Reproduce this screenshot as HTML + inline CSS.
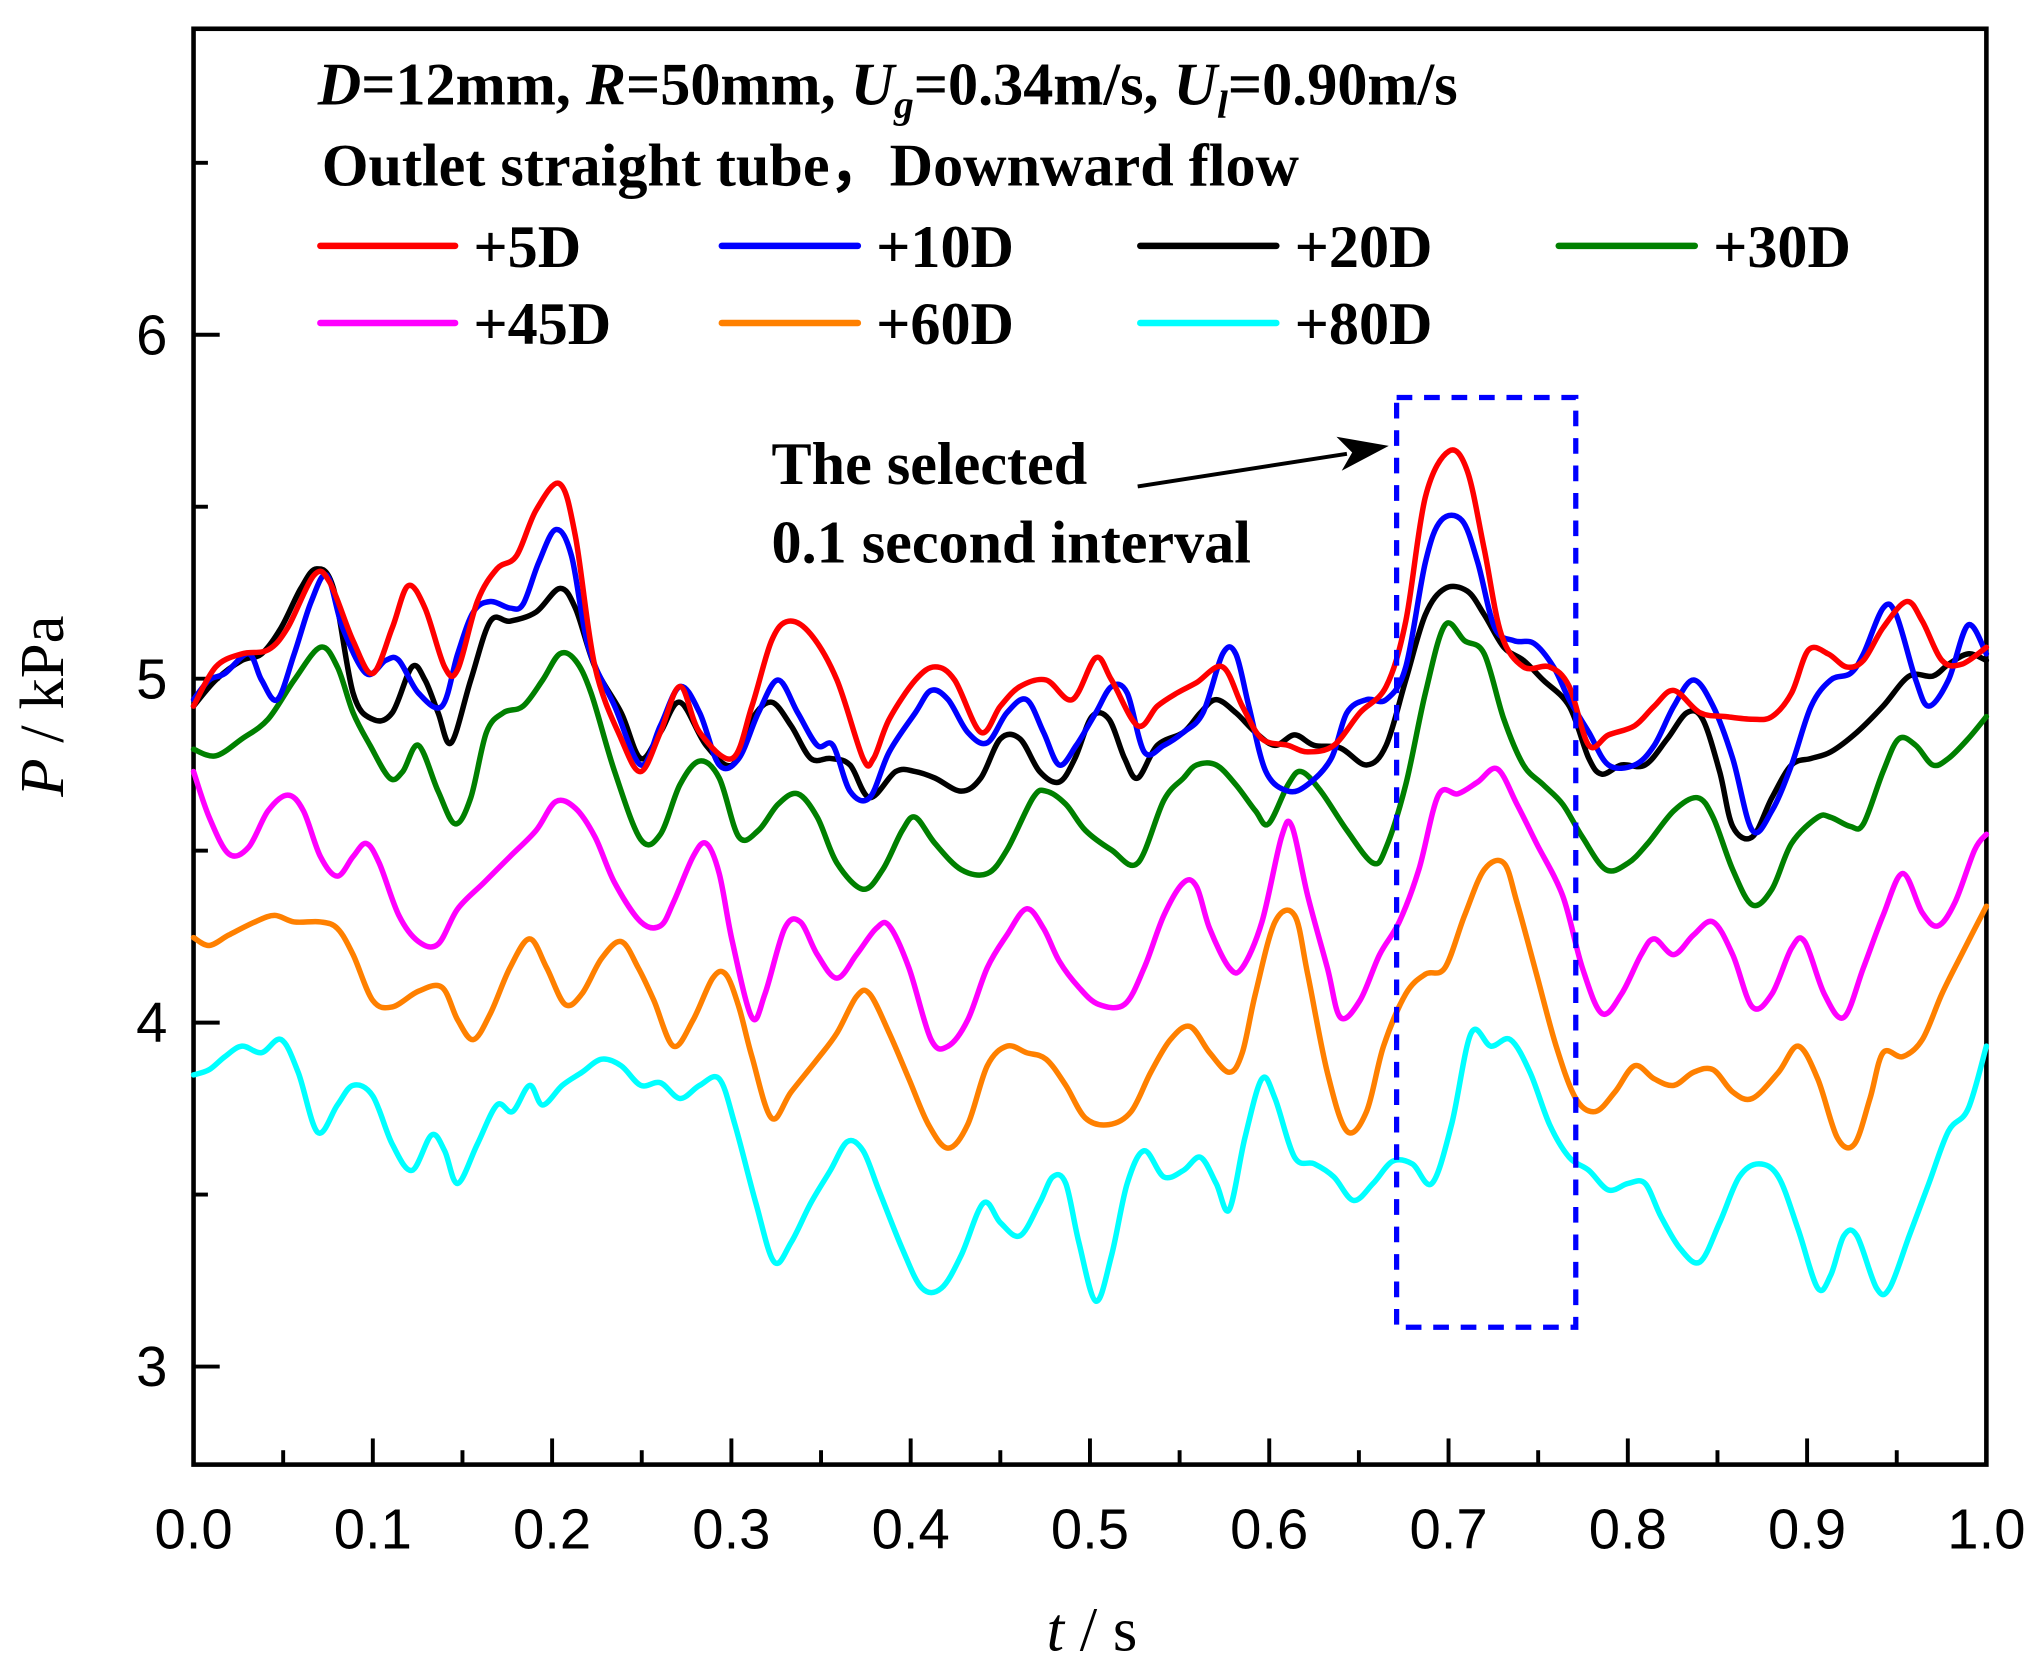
<!DOCTYPE html>
<html><head><meta charset="utf-8"><style>
html,body{margin:0;padding:0;background:#fff}
svg{display:block}
.t{font-family:"Liberation Serif",serif;font-weight:bold;font-size:46px;fill:#000}
.n{font-family:"Liberation Sans",sans-serif;font-size:43px;fill:#000}
</style></head><body>
<svg id="s" width="2040" height="1672" viewBox="0 0 1560 1278.6" preserveAspectRatio="none" xmlns="http://www.w3.org/2000/svg">
<rect x="148" y="22" width="1371" height="1098" fill="none" stroke="#000" stroke-width="3.5"/>
<g id="ticks" stroke="#000" stroke-width="3"></g>
<g id="series" fill="none" stroke-width="4.2" stroke-linejoin="round" stroke-linecap="round"></g>
<g class="n" text-anchor="end">
<text x="128" y="1060">3</text><text x="128" y="797">4</text><text x="128" y="534">5</text><text x="128" y="271">6</text>
</g>
<g class="n" text-anchor="middle" id="xl"></g>
<text x="835" y="1262" font-family="Liberation Serif,serif" font-size="48" text-anchor="middle"><tspan font-style="italic">t</tspan> / s</text>
<text transform="translate(48,540) rotate(-90)" font-family="Liberation Serif,serif" font-size="48" text-anchor="middle"><tspan font-style="italic">P</tspan> / kPa</text>
<text class="t" x="243" y="80" font-size="44"><tspan font-style="italic">D</tspan>=12mm, <tspan font-style="italic">R</tspan>=50mm, <tspan font-style="italic">U</tspan><tspan font-style="italic" font-size="30" dy="10">g</tspan><tspan dy="-10">=0.34m/s, </tspan><tspan font-style="italic">U</tspan><tspan font-style="italic" font-size="30" dy="10">l</tspan><tspan dy="-10">=0.90m/s</tspan></text>
<text class="t" x="246" y="142" font-family="Liberation Serif,'Noto Serif CJK SC',serif">Outlet straight tube，Downward flow</text>
<g stroke-width="5" stroke-linecap="round">
<line x1="245" y1="188" x2="348" y2="188" stroke="#f00"/>
<line x1="552" y1="188" x2="656" y2="188" stroke="#00f"/>
<line x1="872" y1="188" x2="976" y2="188" stroke="#000"/>
<line x1="1192" y1="188" x2="1296" y2="188" stroke="#008000"/>
<line x1="245" y1="247" x2="348" y2="247" stroke="#f0f"/>
<line x1="552" y1="247" x2="656" y2="247" stroke="#ff8000"/>
<line x1="872" y1="247" x2="976" y2="247" stroke="#0ff"/>
</g>
<g class="t">
<text x="362" y="204">+5D</text><text x="670" y="204">+10D</text><text x="990" y="204">+20D</text><text x="1310" y="204">+30D</text>
<text x="362" y="263">+45D</text><text x="670" y="263">+60D</text><text x="990" y="263">+80D</text>
<text x="590" y="370">The selected</text><text x="590" y="430">0.1 second interval</text>
</g>
<line x1="870" y1="372" x2="1030" y2="347" stroke="#000" stroke-width="3"/>
<polygon points="1062,341 1022,334 1034,346 1026,360" fill="#000"/>
<rect x="1068" y="304" width="137" height="711" fill="none" stroke="#00f" stroke-width="4" stroke-dasharray="12,9"/>
</svg>
<script>
var NS="http://www.w3.org/2000/svg";
var tg=document.getElementById('ticks'),xl=document.getElementById('xl');
function ln(x1,y1,x2,y2){var l=document.createElementNS(NS,'line');l.setAttribute('x1',x1);l.setAttribute('y1',y1);l.setAttribute('x2',x2);l.setAttribute('y2',y2);tg.appendChild(l);}
for(var i=0;i<=20;i++){var x=148+i*68.55;ln(x,1120,x,1120-(i%2?11:20));if(i%2==0){var t=document.createElementNS(NS,'text');t.setAttribute('x',x);t.setAttribute('y',1184);t.textContent=(i/20).toFixed(1);xl.appendChild(t);}}
for(var v=3;v<=6.5;v+=0.5){var y=519-(v-5)*263;ln(148,y,148+(v%1?11:20),y);}
var D={
"#f00":"148,540 165,510 185,500 205,497 220,480 240,440 252,445 270,490 285,515 300,480 312,448 325,465 340,510 350,512 365,460 380,435 395,425 410,390 428,370 440,410 455,510 475,565 490,590 505,560 520,525 535,560 560,580 575,540 590,490 603,475 620,485 640,520 660,580 668,580 680,550 700,520 715,510 730,520 750,560 765,540 780,525 800,520 820,535 838,503 850,520 870,555 885,540 900,530 915,522 935,510 950,540 965,565 985,570 1000,575 1020,570 1040,545 1060,525 1075,475 1090,380 1108,345 1122,360 1135,420 1148,485 1165,510 1185,510 1200,525 1215,570 1230,562 1250,555 1265,540 1280,528 1300,545 1320,548 1340,550 1355,548 1370,530 1383,497 1398,500 1412,510 1425,505 1440,480 1458,460 1470,475 1485,505 1500,508 1519,495",
"#00f":"148,535 160,520 172,515 190,500 200,520 212,535 225,500 238,460 250,440 262,480 280,515 295,505 305,505 320,530 338,540 350,500 362,468 375,460 390,465 400,462 412,430 425,405 437,425 450,495 470,540 490,585 505,555 520,525 535,545 550,585 565,580 580,545 595,520 610,545 625,570 637,570 650,605 665,610 680,575 700,545 712,528 725,535 740,560 755,568 770,545 785,535 798,560 810,585 823,570 838,545 850,525 862,530 875,575 890,570 905,560 920,545 935,500 945,500 955,540 968,590 985,605 1000,600 1018,580 1030,545 1045,535 1060,535 1075,510 1090,430 1102,398 1118,398 1130,430 1143,480 1158,490 1173,492 1188,510 1200,535 1215,560 1230,585 1250,585 1265,570 1280,540 1295,520 1310,540 1325,580 1340,635 1355,620 1370,585 1385,540 1400,520 1415,515 1425,500 1440,465 1450,470 1465,520 1475,540 1490,520 1505,478 1519,500",
"#000":"148,540 165,520 185,505 200,500 215,480 230,450 242,435 255,450 270,530 285,550 300,545 315,510 325,520 335,545 345,568 360,520 375,475 390,475 410,468 428,450 440,465 455,510 475,545 490,580 505,560 520,537 540,570 560,585 575,550 590,537 605,555 620,580 635,580 650,585 665,610 685,590 700,590 715,595 735,605 750,595 765,565 780,565 795,590 810,598 822,580 835,548 848,550 860,580 870,595 885,570 905,560 918,545 930,535 945,545 960,560 975,570 990,562 1005,570 1025,572 1045,585 1060,570 1075,520 1090,470 1105,450 1122,452 1135,470 1150,495 1165,505 1180,520 1200,540 1215,580 1225,592 1240,585 1258,585 1275,565 1290,545 1302,550 1315,590 1325,632 1340,640 1355,610 1370,585 1385,580 1400,575 1420,560 1440,540 1460,517 1478,517 1490,508 1505,500 1519,505",
"#008000":"148,573 165,578 185,565 205,550 225,520 245,495 258,510 270,545 283,570 298,595 308,590 320,570 335,605 348,630 360,610 372,560 385,545 400,540 415,520 428,500 440,505 452,530 470,590 490,642 505,638 520,600 535,582 550,595 565,640 580,635 595,615 610,607 625,625 640,660 660,680 675,665 690,635 700,625 715,645 735,665 755,668 770,650 790,610 800,605 815,615 830,635 850,650 870,660 890,612 905,595 915,585 930,585 945,600 960,620 970,630 985,600 995,590 1010,605 1030,635 1050,660 1060,648 1075,600 1090,530 1105,478 1120,490 1135,500 1150,550 1165,585 1180,600 1195,615 1210,640 1228,665 1245,660 1260,645 1280,620 1298,610 1310,625 1325,665 1340,692 1355,680 1370,645 1390,625 1400,625 1415,632 1425,630 1440,590 1452,565 1465,570 1478,585 1490,580 1505,565 1519,548",
"#f0f":"148,590 160,625 175,653 190,648 205,620 220,608 232,620 245,655 258,670 270,655 280,645 290,660 305,700 320,720 335,722 350,695 370,675 390,655 410,635 425,613 440,618 455,640 470,675 490,705 505,708 515,690 530,655 540,645 550,668 560,720 575,778 585,760 600,710 612,705 625,730 640,748 655,730 670,710 680,708 695,740 712,795 725,800 740,780 755,740 770,715 785,695 798,710 810,735 825,755 840,768 860,768 875,740 890,700 905,675 915,678 925,710 940,740 950,740 965,705 980,640 988,632 1000,685 1015,740 1025,778 1040,765 1055,730 1070,705 1085,665 1100,608 1115,607 1130,598 1145,588 1160,615 1175,645 1195,685 1210,740 1225,775 1240,760 1255,730 1265,718 1280,730 1295,715 1310,705 1325,730 1340,770 1355,760 1370,725 1380,720 1395,760 1410,778 1425,740 1440,700 1455,668 1470,698 1482,708 1495,690 1510,650 1519,638",
"#ff8000":"148,717 160,723 175,715 195,705 210,700 225,705 245,705 258,710 270,730 285,765 300,770 320,758 338,755 350,780 362,795 375,775 390,740 405,718 418,740 432,768 445,760 460,733 475,720 488,740 500,765 515,800 530,780 545,748 555,745 565,770 575,808 590,855 605,835 625,810 640,790 655,762 665,760 680,790 695,825 710,860 725,878 740,860 755,815 770,800 785,805 800,810 815,830 830,855 848,860 865,850 880,820 895,795 910,785 925,805 940,820 950,805 960,760 975,705 990,700 1000,745 1015,820 1030,865 1045,850 1058,800 1075,760 1090,745 1105,740 1120,700 1135,665 1150,660 1160,690 1175,745 1190,800 1205,840 1220,850 1235,835 1250,815 1265,825 1280,830 1295,820 1310,818 1325,835 1340,840 1360,820 1375,800 1390,825 1405,870 1418,875 1430,840 1440,805 1455,808 1470,795 1485,760 1500,730 1519,693",
"#0ff":"148,822 160,818 172,808 185,800 200,805 215,795 228,820 243,866 258,845 270,830 285,838 300,875 315,895 330,868 340,880 350,905 365,875 380,845 392,850 405,830 415,845 430,830 445,820 460,810 475,815 490,830 505,828 520,840 535,830 550,825 562,860 578,920 592,965 605,950 620,920 635,895 648,873 660,880 672,910 690,955 705,985 720,985 735,960 752,920 765,935 780,945 795,920 805,900 815,905 825,950 838,995 850,960 862,905 875,880 890,900 905,895 918,885 930,905 940,925 952,870 965,825 975,840 990,885 1005,890 1020,900 1035,918 1050,905 1065,888 1080,890 1095,905 1110,860 1125,790 1140,800 1155,795 1170,820 1185,860 1200,885 1215,895 1230,910 1245,905 1258,905 1270,930 1285,955 1300,965 1315,935 1330,900 1345,890 1360,900 1375,940 1390,985 1400,975 1410,945 1420,945 1435,985 1445,985 1460,945 1475,905 1490,865 1505,848 1519,800"};
var order=["#0ff","#ff8000","#f0f","#008000","#000","#00f","#f00"];
var sg=document.getElementById('series');
order.forEach(function(c){var p=D[c].split(' ').map(function(s){return s.split(',').map(Number)});
var d='M'+p[0][0]+','+p[0][1];
for(var i=0;i<p.length-1;i++){var a=p[i-1]||p[i],b=p[i],e=p[i+1],f=p[i+2]||e;
d+='C'+(b[0]+(e[0]-a[0])/6)+','+(b[1]+(e[1]-a[1])/6)+' '+(e[0]-(f[0]-b[0])/6)+','+(e[1]-(f[1]-b[1])/6)+' '+e[0]+','+e[1];}
var el=document.createElementNS(NS,'path');el.setAttribute('d',d);el.setAttribute('stroke',c);sg.appendChild(el);});
</script>
</body></html>
